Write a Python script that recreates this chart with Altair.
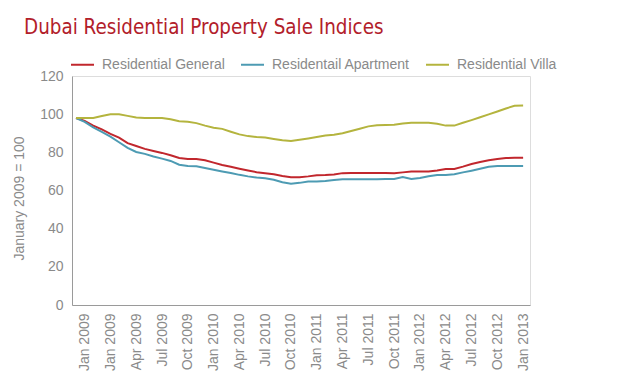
import json
import altair as alt
import pandas as pd

tick_labels = ["Jan 2009", "Jan 2009", "Apr 2009", "Jul 2009", "Oct 2009", "Jan 2010",
               "Apr 2010", "Jul 2010", "Oct 2010", "Jan 2011", "Apr 2011", "Jul 2011",
               "Oct 2011", "Jan 2012", "Apr 2012", "Jul 2012", "Oct 2012", "Jan 2013"]

series_names = ["Residential General", "Residentail Apartment", "Residential Villa"]

general = [98, 96.5, 94, 92, 89.7, 87.7, 84.8, 83.3, 81.8, 80.7, 79.7, 78.5, 77, 76.5,
           76.5, 75.8, 74.6, 73.4, 72.4, 71.4, 70.5, 69.6, 69.1, 68.5, 67.6, 67, 67,
           67.4, 68, 68.1, 68.4, 69.1, 69.2, 69.2, 69.2, 69.2, 69.2, 69, 69.5, 70, 70,
           70, 70.5, 71.3, 71.3, 72.5, 73.9, 74.9, 75.9, 76.5, 77, 77.2, 77.2]

apartment = [98, 96, 93.1, 90.7, 88.2, 85.3, 82.3, 80.2, 79.2, 77.8, 76.7, 75.5, 73.5,
             72.8, 72.7, 71.8, 70.9, 70, 69.2, 68.2, 67.4, 66.8, 66.4, 65.6, 64.3, 63.6,
             64, 64.7, 64.7, 65, 65.5, 65.9, 65.9, 65.9, 65.9, 65.9, 66, 66, 67, 66,
             66.5, 67.5, 68.1, 68.1, 68.5, 69.5, 70.4, 71.4, 72.4, 72.9, 72.9, 72.9, 72.9]

villa = [98, 98, 98, 99, 99.9, 100, 99.1, 98.2, 98, 98, 98, 97.3, 96.3, 96, 95.3, 94,
         92.9, 92.3, 90.8, 89.4, 88.5, 88, 87.8, 87, 86.3, 86, 86.6, 87.3, 88, 88.8,
         89.2, 90, 91.2, 92.4, 93.6, 94.2, 94.3, 94.4, 95.1, 95.5, 95.5, 95.5, 95, 94,
         94, 95.5, 96.9, 98.4, 99.9, 101.4, 103, 104.4, 104.5]

colors = ["#c1272d", "#4d9bb3", "#b4b43e"]

rows = []
for name, vals in zip(series_names, [general, apartment, villa]):
    for i, v in enumerate(vals):
        rows.append({"i": i, "value": v, "series": name})
df = pd.DataFrame(rows)

tick_positions = [1 + 3 * k for k in range(len(tick_labels))]
label_expr = json.dumps(tick_labels) + "[round((datum.value - 1) / 3)]"
gray = "#8a8a8a"
font = "Liberation Sans"

chart = alt.Chart(df).mark_line(strokeWidth=2).encode(
    x=alt.X("i:Q",
            scale=alt.Scale(domain=[-0.47, 52.8], nice=False, zero=False),
            axis=alt.Axis(values=tick_positions, labelExpr=label_expr,
                          labelAngle=-90, grid=False, ticks=False, title=None,
                          labelFontSize=14, labelColor=gray, labelFont=font,
                          labelPadding=8, labelFlush=False, labelOverlap=False,
                          domainColor="#9a9a9a")),
    y=alt.Y("value:Q",
            scale=alt.Scale(domain=[0, 120], nice=False),
            axis=alt.Axis(values=[0, 20, 40, 60, 80, 100, 120], grid=False, ticks=False,
                          title="January 2009 = 100", titleFontSize=14,
                          titleFontWeight="normal", titleColor=gray, titleFont=font,
                          titleX=-53, titleY=122, titleAngle=-90, titleAlign="center",
                          titleBaseline="middle",
                          labelFontSize=14, labelColor=gray, labelFont=font,
                          labelPadding=9, domainColor="#9a9a9a")),
    color=alt.Color("series:N",
                    scale=alt.Scale(domain=series_names, range=colors),
                    sort=series_names,
                    legend=alt.Legend(orient="none", legendX=-2, legendY=-24,
                                      direction="horizontal", title=None,
                                      symbolType="stroke", symbolStrokeWidth=2,
                                      symbolSize=529, labelFontSize=14,
                                      labelColor=gray, labelFont=font,
                                      labelOffset=7, columnPadding=12)),
).properties(
    width=458,
    height=229,
    padding={"left": 64, "top": 68, "right": 92, "bottom": 76},
    autosize=alt.AutoSizeParams(type="none"),
    title=alt.TitleParams("Dubai Residential Property Sale Indices",
                          anchor="start", frame="group",
                          font="Liberation Sans Narrow, DejaVu Sans Condensed, Roboto Condensed, Roboto",
                          fontSize=20.4, fontWeight="normal", color="#b2202a",
                          dx=-48, offset=14),
).configure_view(stroke=None).configure(background="white")

chart.save("out.html", embed_options={"renderer": "svg", "actions": False})
